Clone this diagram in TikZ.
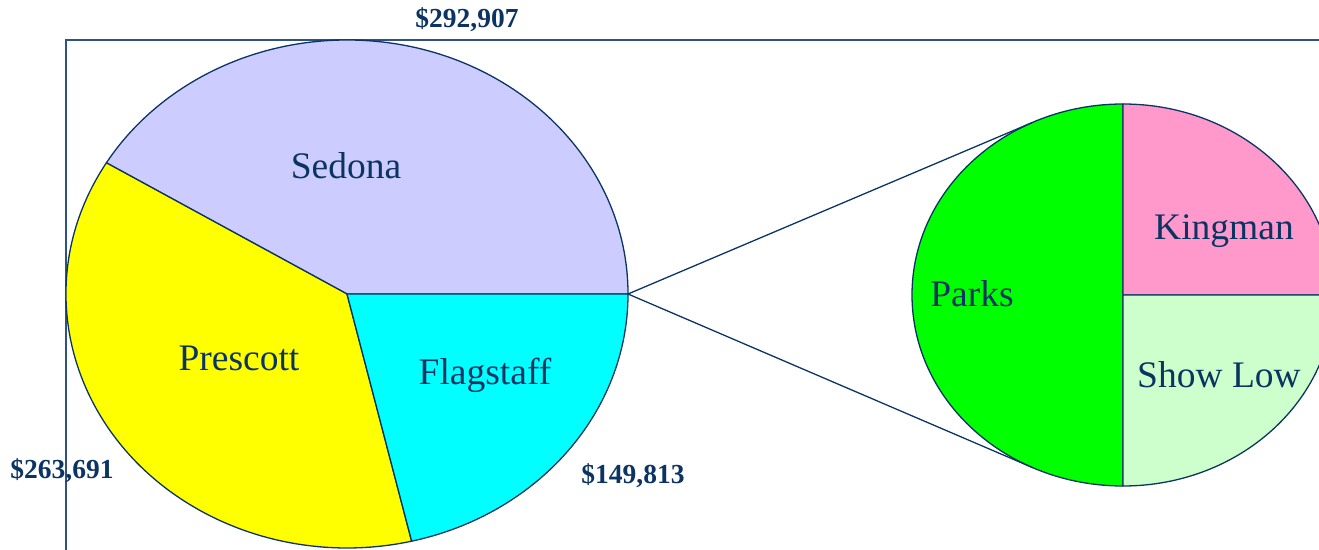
\documentclass[tikz,border=0pt]{standalone}
\usepackage{fontspec}
\setmainfont{Liberation Serif}
\usetikzlibrary{calc}
\definecolor{navy}{HTML}{0C3463}
\definecolor{framecol}{HTML}{2D5283}
\definecolor{sedona}{HTML}{CCCCFF}
\definecolor{prescott}{HTML}{FFFF00}
\definecolor{flagstaff}{HTML}{00FFFF}
\definecolor{parks}{HTML}{00FF00}
\definecolor{kingman}{HTML}{FF99CC}
\definecolor{showlow}{HTML}{CCFFCC}
\tikzset{
  slice/.style={draw=navy, line width=1.3pt, line join=round},
  cityname/.style={text=navy, font=\fontsize{37.5}{42}\selectfont, inner sep=0pt},
  amount/.style={text=navy, font=\fontsize{27.5}{30}\selectfont\bfseries, inner sep=0pt},
  link/.style={draw=navy, line width=1.3pt},
}
\begin{document}
\begin{tikzpicture}[x=1pt,y=1pt]
\useasboundingbox (0,0) rectangle (1319,549);
\clip (0,0) rectangle (1319,549);

% frame (plot area border)
\draw[framecol, line width=1.5pt] (66,-10) -- (66,509) -- (1330,509);

% main pie
\coordinate (bigc) at (347,255);
\filldraw[slice, fill=sedona] (bigc) -- ($(bigc)+(0:281 and 254)$) arc[start angle=0, end angle=148.9, x radius=281, y radius=254] -- cycle;
\filldraw[slice, fill=prescott] (bigc) -- ($(bigc)+(148.9:281 and 254)$) arc[start angle=148.9, end angle=283.3, x radius=281, y radius=254] -- cycle;
\filldraw[slice, fill=flagstaff] (bigc) -- ($(bigc)+(283.3:281 and 254)$) arc[start angle=283.3, end angle=360, x radius=281, y radius=254] -- cycle;
\coordinate (join) at ($(bigc)+(0:281 and 254)$);

% secondary pie
\coordinate (smallc) at (1123,254);
\filldraw[slice, fill=parks] (smallc) -- ($(smallc)+(90:211 and 191)$) arc[start angle=90, end angle=270, x radius=211, y radius=191] -- cycle;
\filldraw[slice, fill=kingman] (smallc) -- ($(smallc)+(0:211 and 191)$) arc[start angle=0, end angle=90, x radius=211, y radius=191] -- cycle;
\filldraw[slice, fill=showlow] (smallc) -- ($(smallc)+(270:211 and 191)$) arc[start angle=270, end angle=360, x radius=211, y radius=191] -- cycle;

% connector lines
\coordinate (tupper) at ($(smallc)+(115.5:211 and 191)$);
\coordinate (tlower) at ($(smallc)+(244.8:211 and 191)$);
\draw[link] (join) -- (tupper);
\draw[link] (join) -- (tlower);

% slice names
\node[cityname] (nsedona) at (346,383) {Sedona};
\node[cityname] (nprescott) at (239,191) {Prescott};
\node[cityname] (nflagstaff) at (485,174) {Flagstaff};
\node[cityname] (nparks) at (972,255) {Parks};
\node[cityname] (nkingman) at (1224,318) {Kingman};
\node[cityname] (nshowlow) at (1219,174) {Show Low};

% amounts
\node[amount] (asedona) at (467,529) {\$292,907};
\node[amount] (aprescott) at (62,78) {\$263,691};
\node[amount] (aflagstaff) at (633,73) {\$149,813};
\end{tikzpicture}
\end{document}
